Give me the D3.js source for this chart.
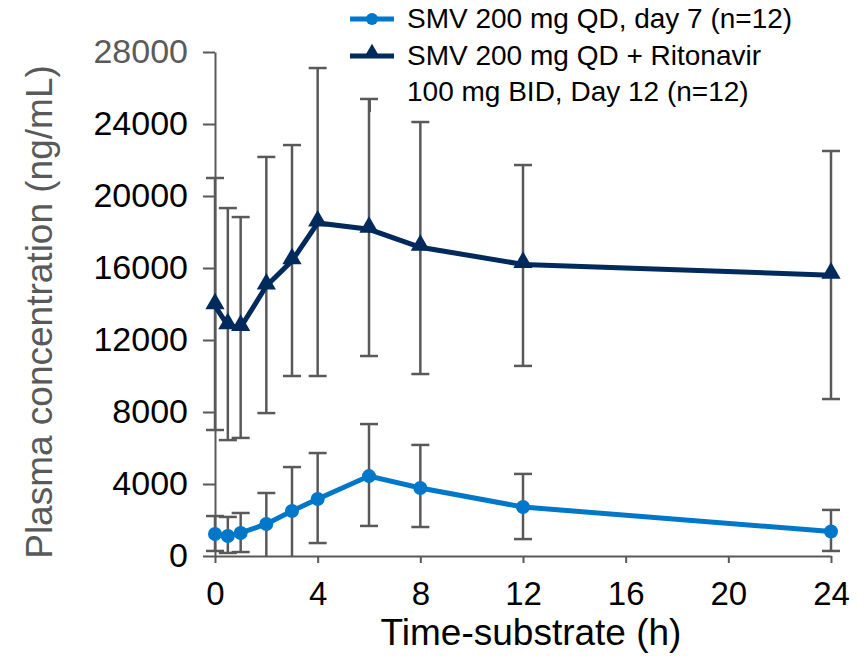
<!DOCTYPE html>
<html>
<head>
<meta charset="utf-8">
<script src="https://cdn.jsdelivr.net/npm/d3@7"></script>
<style>
  body { margin: 0; background: #fff; }
  text { font-family: "Liberation Sans", Arial, sans-serif; }
</style>
</head>
<body>
<div id="chart"></div>
<script>
const times = [0, 0.5, 1, 2, 3, 4, 6, 8, 12, 24];
const smvMean = [1220, 1110, 1280, 1780, 2500, 3170, 4440, 3780, 2720, 1360];
const smvUpper = [2220, 2170, 2390, 3500, 4940, 5720, 7330, 6170, 4560, 2560];
const smvLower = [280, 170, 220, 0, 0, 720, 1670, 1610, 940, 280];
const rtvMean = [13900, 12800, 12700, 15000, 16400, 18500, 18150, 17150, 16200, 15600];
const rtvUpper = [21000, 19330, 18830, 22170, 22830, 27110, 25390, 24110, 21720, 22500];
const rtvLower = [7000, 6440, 6560, 7940, 10000, 10000, 11110, 10110, 10560, 8720];
const xTicks = [0, 4, 8, 12, 16, 20, 24];
const yTicks = [0, 4000, 8000, 12000, 16000, 20000, 24000, 28000];
const legendLabels = ['SMV 200 mg QD, day 7 (n=12)', 'SMV 200 mg QD + Ritonavir', '100 mg BID, Day 12 (n=12)'];

const W = 867, H = 657;
const margin = { top: 52, right: 36, bottom: 101, left: 215 };
const width = W - margin.left - margin.right;
const height = H - margin.top - margin.bottom;

const lightBlue = '#0077c8', navy = '#002a5c', grey = '#595959';

const svg = d3.select('#chart').append('svg')
    .attr('width', W)
    .attr('height', H);

const g = svg.append('g')
    .attr('transform', `translate(${margin.left},${margin.top})`);

const x = d3.scaleLinear().domain([0, 24]).range([0, width]);
const y = d3.scaleLinear().domain([0, 28000]).range([height, 0]);

// axes
const xAxis = g.append('g')
    .attr('transform', `translate(0,${height})`)
    .call(d3.axisBottom(x).tickValues(xTicks).tickSize(7).tickSizeOuter(0));
xAxis.selectAll('text').attr('font-size', 33).attr('fill', '#000').attr('y', 49).attr('dy', 0);

const yAxis = g.append('g')
    .call(d3.axisLeft(y).tickValues(yTicks).tickSize(12).tickSizeOuter(0).tickFormat(d3.format('d')));
yAxis.selectAll('text').attr('font-size', 34).attr('fill', d => d === 28000 ? '#5a5a5a' : '#000').attr('x', -27);

g.selectAll('.domain, .tick line').attr('stroke', grey).attr('stroke-width', 2);

// axis titles
svg.append('text')
    .attr('x', margin.left + x(12) + 8)
    .attr('y', 645)
    .attr('text-anchor', 'middle')
    .attr('font-size', 37)
    .attr('fill', '#000')
    .text('Time-substrate (h)');

svg.append('text')
    .attr('transform', `translate(52,${312}) rotate(-90)`)
    .attr('text-anchor', 'middle')
    .attr('font-size', 37)
    .attr('fill', grey)
    .text('Plasma concentration (ng/mL)');

// error bars
function errorBars(lower, upper) {
    const cap = 9;
    times.forEach((t, i) => {
        const eb = g.append('g').attr('stroke', grey).attr('stroke-width', 2.5);
        eb.append('line').attr('x1', x(t)).attr('x2', x(t)).attr('y1', y(lower[i])).attr('y2', y(upper[i]));
        eb.append('line').attr('x1', x(t) - cap).attr('x2', x(t) + cap).attr('y1', y(upper[i])).attr('y2', y(upper[i]));
        if (lower[i] > 0) {
            eb.append('line').attr('x1', x(t) - cap).attr('x2', x(t) + cap).attr('y1', y(lower[i])).attr('y2', y(lower[i]));
        }
    });
}
errorBars(rtvLower, rtvUpper);
errorBars(smvLower, smvUpper);

const line = d3.line().x(d => x(d[0])).y(d => y(d[1]));
const tri = d3.symbol().type(d3.symbolTriangle).size(160);

// ritonavir series
g.append('path')
    .datum(times.map((t, i) => [t, rtvMean[i]]))
    .attr('d', line)
    .attr('fill', 'none')
    .attr('stroke', navy)
    .attr('stroke-width', 5);
g.selectAll('.tri')
    .data(times.map((t, i) => [t, rtvMean[i]]))
    .join('path')
    .attr('transform', d => `translate(${x(d[0])},${y(d[1]) - 2})`)
    .attr('d', tri)
    .attr('fill', navy);

// SMV alone series
g.append('path')
    .datum(times.map((t, i) => [t, smvMean[i]]))
    .attr('d', line)
    .attr('fill', 'none')
    .attr('stroke', lightBlue)
    .attr('stroke-width', 5);
g.selectAll('.dot')
    .data(times.map((t, i) => [t, smvMean[i]]))
    .join('circle')
    .attr('cx', d => x(d[0]))
    .attr('cy', d => y(d[1]))
    .attr('r', 7)
    .attr('fill', lightBlue);

// legend
const lg = svg.append('g');
lg.append('line').attr('x1', 350).attr('x2', 394).attr('y1', 19).attr('y2', 19)
    .attr('stroke', lightBlue).attr('stroke-width', 5);
lg.append('circle').attr('cx', 372).attr('cy', 19).attr('r', 6).attr('fill', lightBlue);
lg.append('line').attr('x1', 350).attr('x2', 394).attr('y1', 56).attr('y2', 56)
    .attr('stroke', navy).attr('stroke-width', 5);
lg.append('path').attr('transform', 'translate(372,53)').attr('d', d3.symbol().type(d3.symbolTriangle).size(110)).attr('fill', navy);
lg.append('line').attr('x1', 365).attr('x2', 375).attr('y1', 99).attr('y2', 99).attr('stroke', grey).attr('stroke-width', 2);
lg.append('line').attr('x1', 370).attr('x2', 370).attr('y1', 99).attr('y2', 112).attr('stroke', grey).attr('stroke-width', 2);

legendLabels.forEach((lab, i) => {
    lg.append('text')
        .attr('x', 407)
        .attr('y', [28, 65, 101][i])
        .attr('font-size', 28)
        .attr('fill', '#000')
        .text(lab);
});
</script>
</body>
</html>
